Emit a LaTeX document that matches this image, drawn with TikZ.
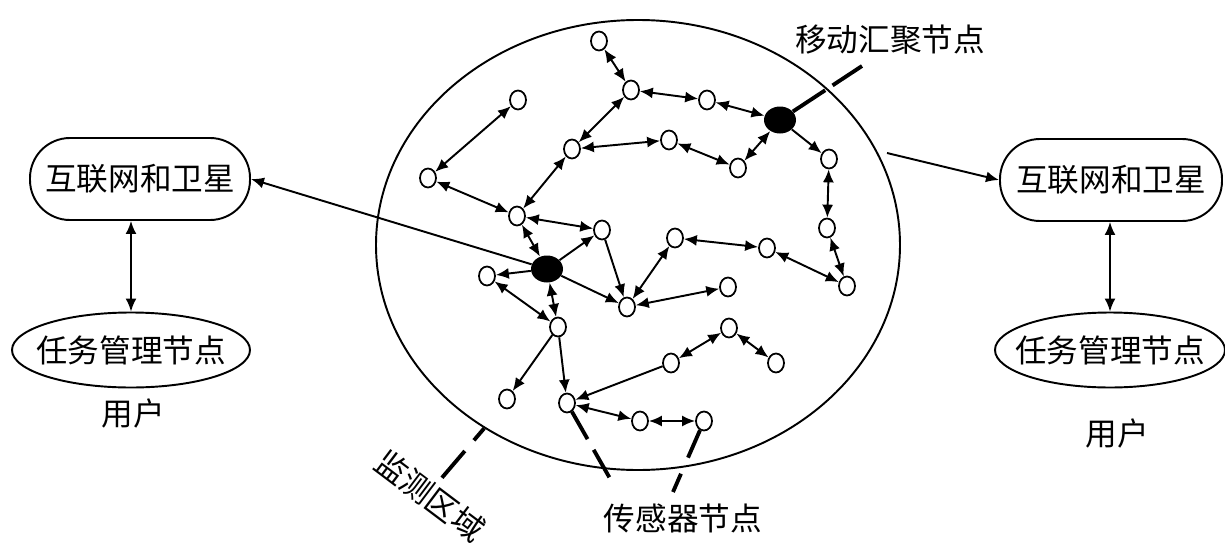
\documentclass[tikz,border=0pt]{standalone}
\usepackage{fontspec}
\setmainfont{Noto Sans CJK SC}
\usetikzlibrary{arrows.meta,shapes.geometric}
\tikzset{sensor/.style={draw,ellipse,line width=1pt,minimum width=3.2mm,minimum height=3.8mm,inner sep=0pt},
  sink/.style={ellipse,fill=black,minimum width=6.4mm,minimum height=5.4mm,inner sep=0pt},
  netbox/.style={draw,line width=1.1pt,rounded corners=8mm,minimum width=44mm,minimum height=16.4mm,inner sep=0pt},
  taskbox/.style={draw,ellipse,line width=1.1pt,minimum height=15mm,inner sep=0pt},
  link/.style={line width=1.1pt},
  tag/.style={line width=2.2pt,dash pattern=on 18pt off 7pt}}

\begin{document}
\begin{tikzpicture}[x=0.2mm,y=-0.2mm,>={Latex[length=2.6mm,width=2.2mm]},font={\fontsize{18}{20}\selectfont}]
\useasboundingbox (0,0) rectangle (1225,549);
% monitored area
\node[draw,ellipse,line width=1.1pt,minimum width=104.8mm,minimum height=90mm,inner sep=0pt] (area) at (638,245) {};
% users
\node[netbox] (leftnet) at (140,179) {互联网和卫星};
\node[taskbox,minimum width=47.6mm,label=center:任务管理节点] (lefttask) at (131,350) {};
\node (leftuser) at (133,413) {用户};
\node[netbox,minimum width=44.4mm] (rightnet) at (1111,180) {互联网和卫星};
\node[taskbox,minimum width=46mm,label=center:任务管理节点] (righttask) at (1110,350) {};
\node (rightuser) at (1117,433) {用户};
% sinks
\node[sink] (sinkA) at (780,120) {};
\node[sink] (sinkB) at (547,269) {};
% sensors
\node[sensor] (sa) at (518,100) {};
\node[sensor] (sb) at (428,178) {};
\node[sensor] (s1) at (599,41) {};
\node[sensor] (s2) at (631,90) {};
\node[sensor] (s3) at (707,100) {};
\node[sensor] (s5) at (669,140) {};
\node[sensor] (s6) at (738,168) {};
\node[sensor] (s7) at (829,159) {};
\node[sensor] (s8) at (827,228) {};
\node[sensor] (s9) at (767,248) {};
\node[sensor] (s10) at (847,286) {};
\node[sensor] (s11) at (572,149) {};
\node[sensor] (s12) at (517,216) {};
\node[sensor] (s13) at (602,230) {};
\node[sensor] (s15) at (487,276) {};
\node[sensor] (s16) at (558,327) {};
\node[sensor] (s17) at (627,307) {};
\node[sensor] (s18) at (675,238) {};
\node[sensor] (s20) at (728,287) {};
\node[sensor] (s21) at (507,399) {};
\node[sensor] (s22) at (567,403) {};
\node[sensor] (s23) at (671,363) {};
\node[sensor] (s24) at (729,328) {};
\node[sensor] (s25) at (776,363) {};
\node[sensor] (s26) at (640,421) {};
\node[sensor] (s27) at (704,421) {};
% labels
\node (sinklabel) at (890,40) {移动汇聚节点};
\node (sensorlabel) at (683,518) {传感器节点};
\node[rotate=-37,inner sep=0pt] (arealabel) at (430,496) {监测区域};
\coordinate (sinktip) at (862,66);
\coordinate (tagA) at (612,482);
\coordinate (tagB) at (673,492);
\coordinate (areaout) at (440,480);
\coordinate (exit) at (887,153);
% links
\foreach \a/\b in {sa/sb,sb/s12,s1/s2,s2/s11,s2/s3,s3/sinkA,s11/s5,s5/s6,s6/sinkA,s7/s8,s8/s10,s9/s10,
  s18/s9,s11/s12,s12/s13,sinkB/s12,sinkB/s16,s15/s16,s18/s17,s17/s20,s23/s24,s24/s25,s22/s26,s26/s27}
  \draw[<->,link] (\a) -- (\b);
\foreach \a/\b in {sinkA/s7,sinkB/s15,sinkB/s13,sinkB/s17,s13/s17,s16/s21,s16/s22,s23/s22}
  \draw[->,link] (\a) -- (\b);
\draw[->,link] (sinkB) -- (leftnet.east);
\draw[->,link] (exit) -- (rightnet.west);
\draw[<->,link] (lefttask.north) -- (lefttask.north |- leftnet.south);
\draw[<->,link] (righttask.north) -- (righttask.north |- rightnet.south);
% pointers
\draw[tag,dash pattern=on 22pt off 5pt] (sinkA) -- (sinktip);
\draw[tag] (s22) -- (tagA);
\draw[tag,dash pattern=on 17pt off 10pt] (s27) -- (tagB);
\draw[tag,dash pattern=on 9pt off 8pt on 20pt off 8pt] (area.-130) -- (areaout);
\end{tikzpicture}
\end{document}
